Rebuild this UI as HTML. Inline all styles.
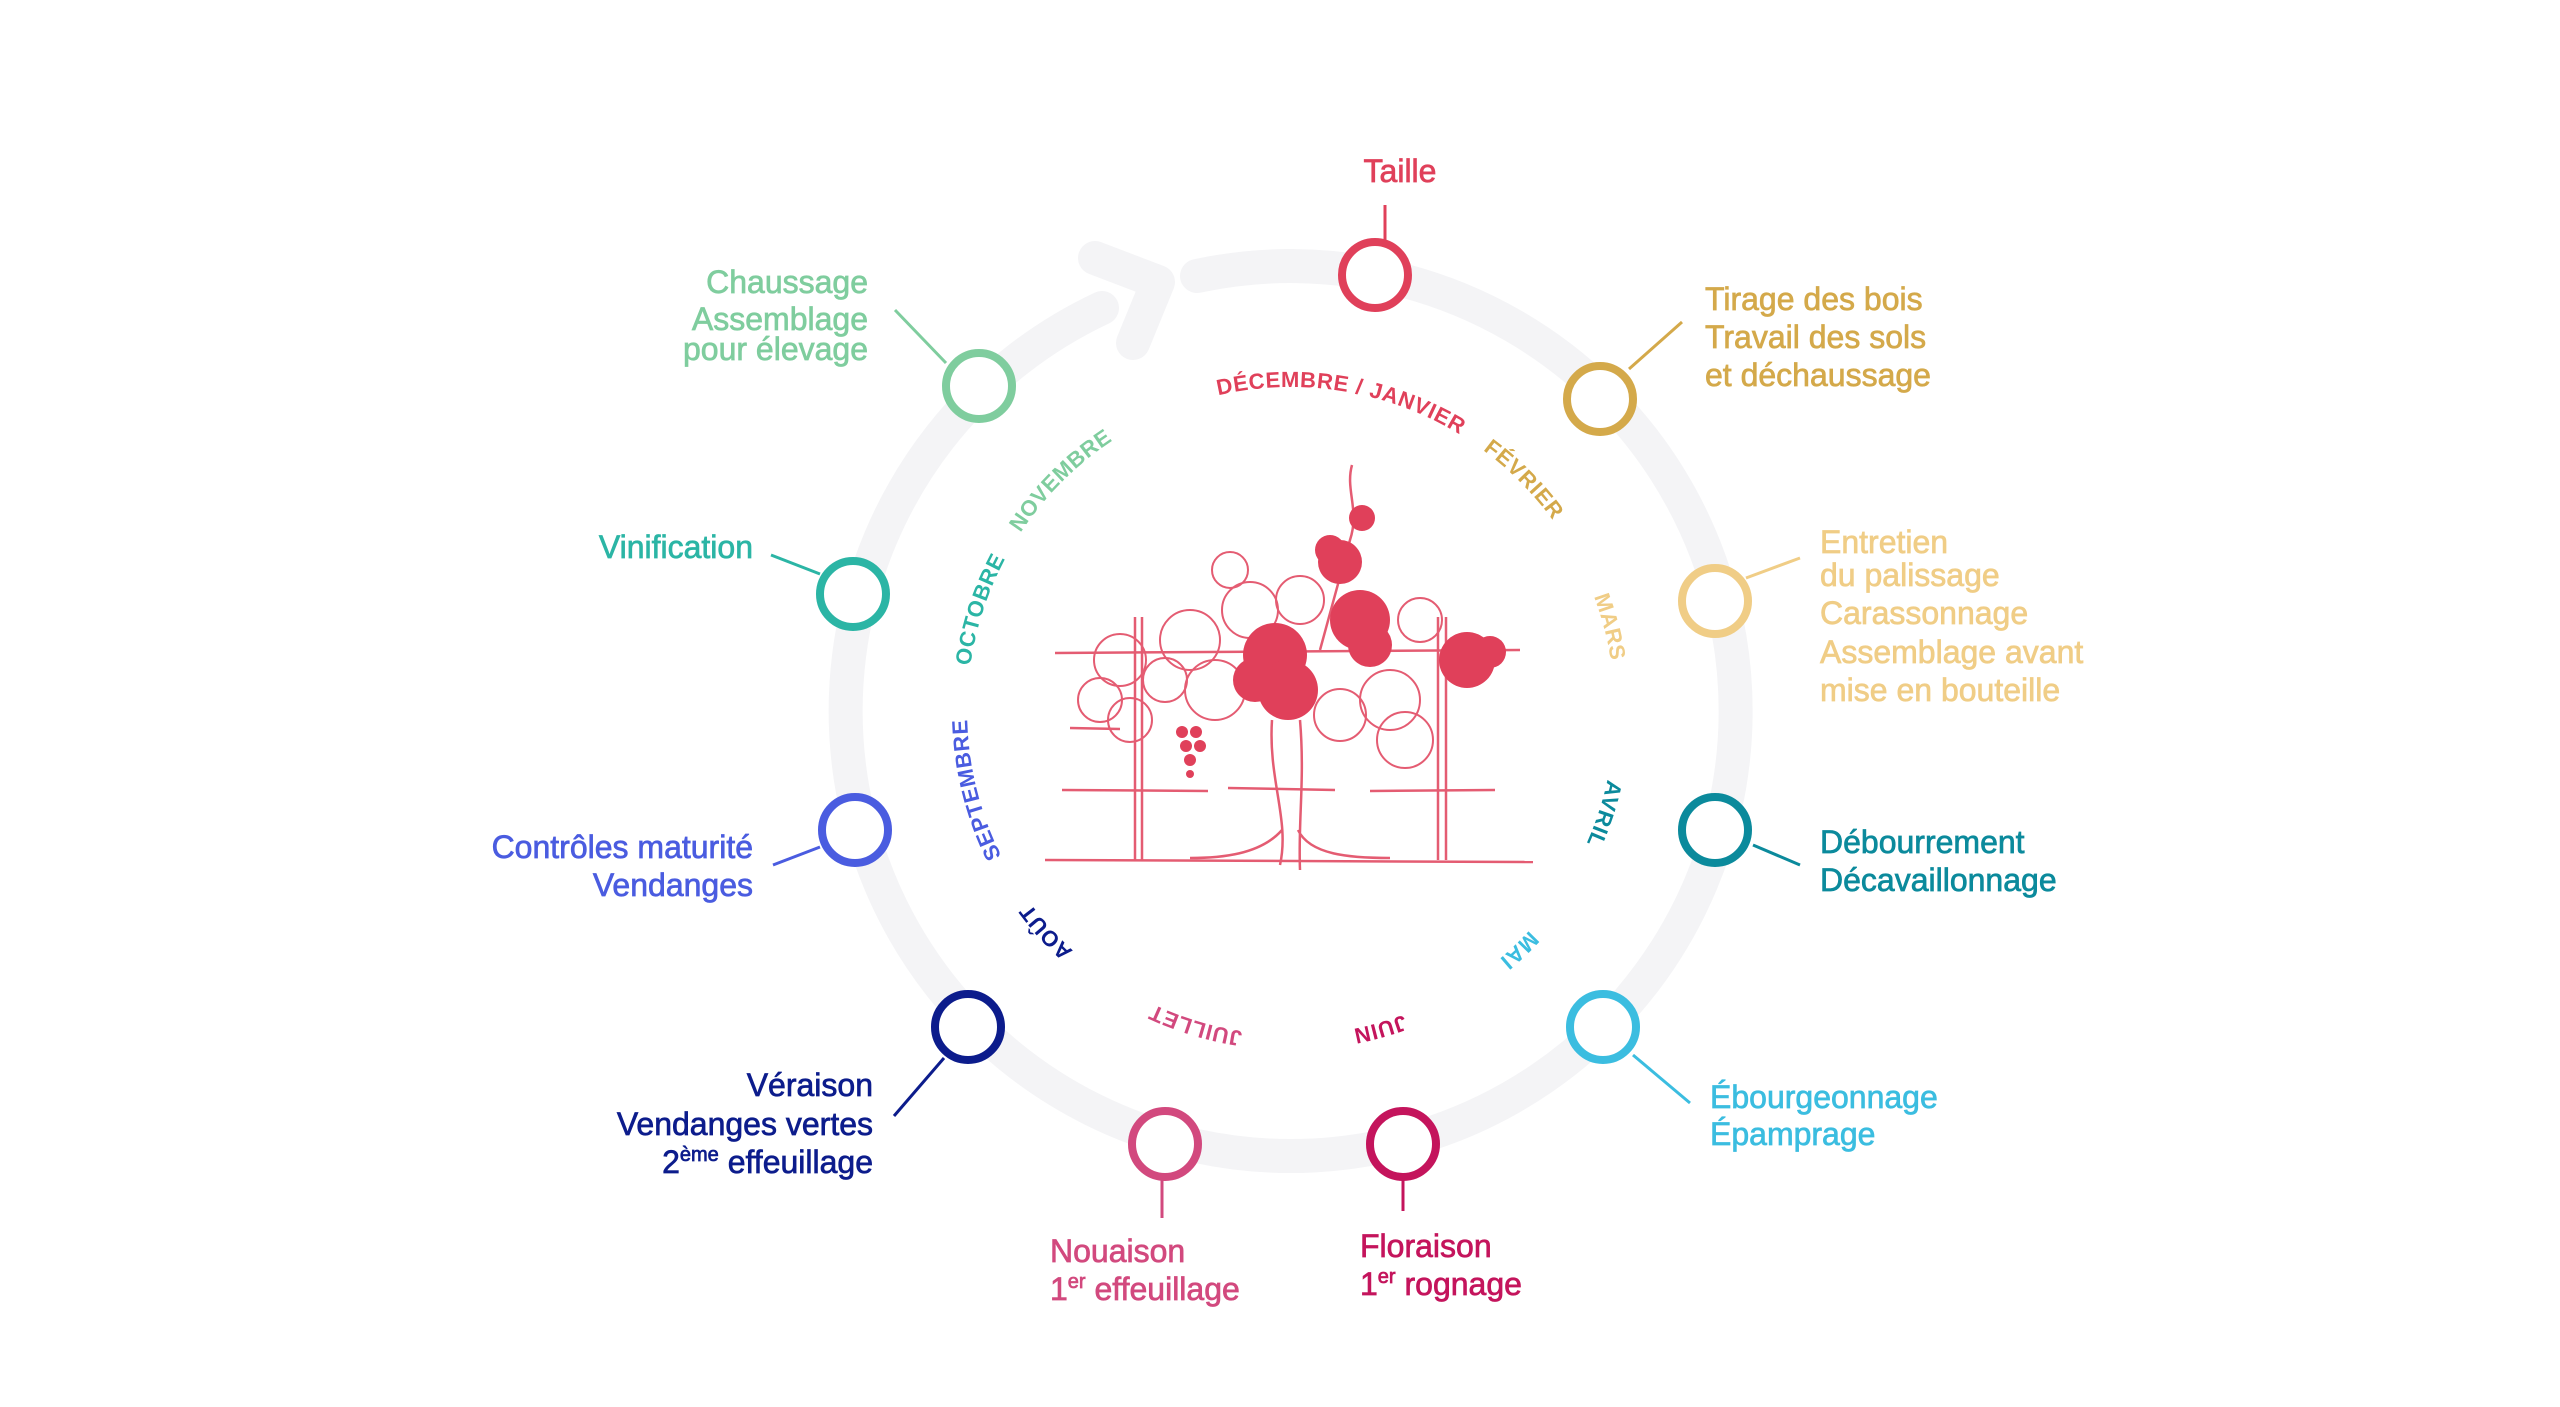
<!DOCTYPE html>
<html><head><meta charset="utf-8">
<style>
html,body{margin:0;padding:0;background:#fff;}
svg{display:block;}
.l{font-family:"Liberation Sans",sans-serif;font-size:32px;stroke-width:0.7px;paint-order:stroke;}
.m{font-family:"Liberation Sans",sans-serif;font-size:22px;font-weight:bold;letter-spacing:1px;}
</style></head>
<body>
<svg width="2560" height="1407" viewBox="0 0 2560 1407" xmlns="http://www.w3.org/2000/svg">
<path d="M1197 276 A445 445 0 1 1 1102 308" fill="none" stroke="#f4f4f6" stroke-width="34" stroke-linecap="round"/>
<polyline points="1095,258 1158,282 1133,343" fill="none" stroke="#f4f4f6" stroke-width="34" stroke-linecap="round" stroke-linejoin="round"/>

<path id="mc" d="M1291 1043 A332 332 0 0 1 1291 379 A332 332 0 0 1 1291 1043" fill="none"/>
<g class="m" text-anchor="middle" dominant-baseline="central">
<text fill="#e0405a"><textPath href="#mc" startOffset="1096">DÉCEMBRE / JANVIER</textPath></text>
<text fill="#d4a94a"><textPath href="#mc" startOffset="1304">FÉVRIER</textPath></text>
<text fill="#f0cd86"><textPath href="#mc" startOffset="1478">MARS</textPath></text>
<text fill="#0b8a9c"><textPath href="#mc" startOffset="1669">AVRIL</textPath></text>
<text fill="#3bbde0"><textPath href="#mc" startOffset="1832">MAI</textPath></text>
<text fill="#c4145c"><textPath href="#mc" startOffset="1994">JUIN</textPath></text>
<text fill="#d2497e"><textPath href="#mc" startOffset="98">JUILLET</textPath></text>
<text fill="#0c1c8c"><textPath href="#mc" startOffset="278">AOÛT</textPath></text>
<text fill="#4a5ce0"><textPath href="#mc" startOffset="440">SEPTEMBRE</textPath></text>
<text fill="#2bb5a5"><textPath href="#mc" startOffset="626">OCTOBRE</textPath></text>
<text fill="#7fcd9e"><textPath href="#mc" startOffset="782">NOVEMBRE</textPath></text>
</g>

<!-- vine -->
<g stroke="#e0405a" fill="none" stroke-width="2.5" opacity="0.85">
<line x1="1045" y1="860" x2="1533" y2="862"/>
<line x1="1062" y1="790" x2="1208" y2="791"/><line x1="1228" y1="788" x2="1335" y2="790"/><line x1="1370" y1="791" x2="1495" y2="790"/>
<line x1="1070" y1="728" x2="1120" y2="729"/>
<line x1="1055" y1="653" x2="1520" y2="650"/>
<line x1="1135" y1="617" x2="1135" y2="860"/><line x1="1142" y1="617" x2="1142" y2="860"/>
<line x1="1438" y1="617" x2="1438" y2="860"/><line x1="1446" y1="617" x2="1446" y2="860"/>
<path d="M1280 865 C1290 820 1268 780 1272 720 M1300 870 C1298 820 1305 780 1300 720 M1282 830 C1260 855 1220 858 1190 858 M1298 830 C1310 855 1350 858 1390 858"/>
<g stroke-width="2">
<circle cx="1120" cy="660" r="26"/><circle cx="1100" cy="700" r="22"/><circle cx="1130" cy="720" r="22"/>
<circle cx="1190" cy="640" r="30"/><circle cx="1215" cy="690" r="30"/><circle cx="1165" cy="680" r="22"/>
<circle cx="1250" cy="610" r="28"/><circle cx="1300" cy="600" r="24"/><circle cx="1390" cy="700" r="30"/>
<circle cx="1420" cy="620" r="22"/><circle cx="1340" cy="715" r="26"/><circle cx="1405" cy="740" r="28"/>
<circle cx="1230" cy="570" r="18"/>
</g>
<path d="M1352 465 C1345 490 1360 510 1350 540 L1320 650"/>
</g>
<g fill="#e0405a" stroke="none">
<circle cx="1275" cy="655" r="32"/><circle cx="1288" cy="690" r="30"/><circle cx="1255" cy="680" r="22"/>
<circle cx="1360" cy="620" r="30"/><circle cx="1370" cy="645" r="22"/>
<circle cx="1340" cy="562" r="22"/><circle cx="1330" cy="550" r="15"/>
<circle cx="1362" cy="518" r="13"/>
<circle cx="1467" cy="660" r="28"/><circle cx="1490" cy="652" r="16"/>
<circle cx="1182" cy="732" r="6"/><circle cx="1196" cy="732" r="6"/><circle cx="1186" cy="746" r="6"/><circle cx="1200" cy="746" r="6"/><circle cx="1190" cy="760" r="6"/><circle cx="1190" cy="774" r="4"/>
</g>

<g stroke-width="3" fill="none">
<line x1="1385" y1="205" x2="1385" y2="240" stroke="#e0405a"/>
<line x1="1629" y1="369" x2="1682" y2="322" stroke="#d4a94a"/>
<line x1="1746" y1="578" x2="1800" y2="558" stroke="#f0cd86"/>
<line x1="1753" y1="845" x2="1800" y2="865" stroke="#0b8a9c"/>
<line x1="1633" y1="1055" x2="1690" y2="1103" stroke="#3bbde0"/>
<line x1="1403" y1="1180" x2="1403" y2="1211" stroke="#c4145c"/>
<line x1="1162" y1="1180" x2="1162" y2="1218" stroke="#d2497e"/>
<line x1="944" y1="1058" x2="894" y2="1116" stroke="#0c1c8c"/>
<line x1="820" y1="847" x2="773" y2="865" stroke="#4a5ce0"/>
<line x1="771" y1="555" x2="820" y2="574" stroke="#2bb5a5"/>
<line x1="895" y1="310" x2="946" y2="363" stroke="#7fcd9e"/>
</g>

<g fill="#fff" stroke-width="8">
<circle cx="1375" cy="275" r="33" stroke="#e0405a"/>
<circle cx="1600" cy="399" r="33" stroke="#d4a94a"/>
<circle cx="1715" cy="601" r="33" stroke="#f0cd86"/>
<circle cx="1715" cy="830" r="33" stroke="#0b8a9c"/>
<circle cx="1603" cy="1027" r="33" stroke="#3bbde0"/>
<circle cx="1403" cy="1144" r="33" stroke="#c4145c"/>
<circle cx="1165" cy="1144" r="33" stroke="#d2497e"/>
<circle cx="968" cy="1027" r="33" stroke="#0c1c8c"/>
<circle cx="855" cy="830" r="33" stroke="#4a5ce0"/>
<circle cx="853" cy="594" r="33" stroke="#2bb5a5"/>
<circle cx="979" cy="386" r="33" stroke="#7fcd9e"/>
</g>

<g class="l">
<text x="1400" y="182" fill="#e0405a" stroke="#e0405a" text-anchor="middle">Taille</text>
<g fill="#d4a94a" stroke="#d4a94a"><text x="1705" y="310">Tirage des bois</text><text x="1705" y="348">Travail des sols</text><text x="1705" y="386">et déchaussage</text></g>
<g fill="#f0cd86" stroke="#f0cd86"><text x="1820" y="553">Entretien</text><text x="1820" y="586">du palissage</text><text x="1820" y="624">Carassonnage</text><text x="1820" y="663">Assemblage avant</text><text x="1820" y="701">mise en bouteille</text></g>
<g fill="#0b8a9c" stroke="#0b8a9c"><text x="1820" y="853">Débourrement</text><text x="1820" y="891">Décavaillonnage</text></g>
<g fill="#3bbde0" stroke="#3bbde0"><text x="1710" y="1108">Ébourgeonnage</text><text x="1710" y="1145">Épamprage</text></g>
<g fill="#c4145c" stroke="#c4145c"><text x="1360" y="1257">Floraison</text><text x="1360" y="1295">1<tspan font-size="20" dy="-12">er</tspan><tspan dy="12"> rognage</tspan></text></g>
<g fill="#d2497e" stroke="#d2497e"><text x="1050" y="1262">Nouaison</text><text x="1050" y="1300">1<tspan font-size="20" dy="-12">er</tspan><tspan dy="12"> effeuillage</tspan></text></g>
<g fill="#0c1c8c" stroke="#0c1c8c" text-anchor="end"><text x="873" y="1096">Véraison</text><text x="873" y="1135">Vendanges vertes</text><text x="873" y="1173">2<tspan font-size="20" dy="-12">ème</tspan><tspan dy="12"> effeuillage</tspan></text></g>
<g fill="#4a5ce0" stroke="#4a5ce0" text-anchor="end"><text x="753" y="858">Contrôles maturité</text><text x="753" y="896">Vendanges</text></g>
<text x="753" y="558" fill="#2bb5a5" stroke="#2bb5a5" text-anchor="end">Vinification</text>
<g fill="#7fcd9e" stroke="#7fcd9e" text-anchor="end"><text x="868" y="293">Chaussage</text><text x="868" y="330">Assemblage</text><text x="868" y="360">pour élevage</text></g>
</g>
</svg>
</body></html>
